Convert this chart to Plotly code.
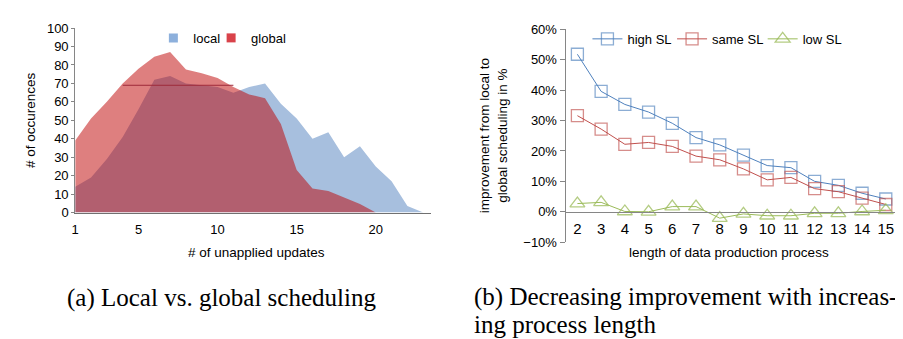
import plotly.graph_objects as go

# ---------------- data: left chart ----------------
updates = list(range(1, 24))
local_counts = [14, 19, 29, 41, 56, 72, 74, 70, 69, 68, 65, 68, 70, 59, 51, 40, 43.5, 30, 36, 25, 17, 3.5, 0]
global_counts = [39, 51, 60, 70, 78, 84.5, 87, 77.5, 75.5, 73, 68, 64, 62, 48, 23, 13, 11.7, 8, 4.7, 0, 0, 0, 0]
ref_line_x = [4, 11]
ref_line_y = [69, 69]
left_xticks = [1, 5, 10, 15, 20]

# ---------------- data: right chart ----------------
proc_len = list(range(2, 16))
high_sl = [51.8, 39.6, 35.3, 32.8, 29.1, 24.4, 22.0, 18.6, 15.2, 14.5, 10.0, 8.7, 6.1, 4.2]
same_sl = [31.6, 27.2, 22.2, 22.8, 21.5, 18.3, 17.1, 14.1, 10.5, 11.3, 7.6, 6.6, 4.5, 2.4]
low_sl = [2.7, 3.1, 0.1, 0.0, 1.7, 1.7, -2.1, -0.7, -1.3, -1.3, -0.5, -0.5, 0.1, 0.5]

W, H = 903, 339


def px_x(p):
    return p / W


def px_y(p):
    return (H - p) / H


FAM = "Liberation Sans, Arial, sans-serif"
AX_FONT = dict(family=FAM, size=13, color="#000000")
AXIS_GRAY = "#868686"

fig = go.Figure()

# left: areas
fig.add_trace(go.Scatter(x=updates, y=local_counts, mode="lines", fill="tozeroy",
                         line=dict(width=0, color="rgb(167,191,222)"),
                         fillcolor="rgb(167,191,222)", showlegend=False,
                         xaxis="x", yaxis="y", hoverinfo="skip"))
fig.add_trace(go.Scatter(x=updates[:20], y=global_counts[:20], mode="lines", fill="tozeroy",
                         line=dict(width=0, color="rgba(190,0,0,0.5)"),
                         fillcolor="rgba(190,0,0,0.5)", showlegend=False,
                         xaxis="x", yaxis="y", hoverinfo="skip"))
fig.add_trace(go.Scatter(x=ref_line_x, y=ref_line_y, mode="lines",
                         line=dict(width=1, color="#9E2A3A"), showlegend=False,
                         xaxis="x", yaxis="y", hoverinfo="skip"))
# left legend entries
fig.add_trace(go.Scatter(x=[None], y=[None], mode="markers", name="local",
                         marker=dict(symbol="square", size=9, color="#8DB0DC"),
                         xaxis="x", yaxis="y", legend="legend"))
fig.add_trace(go.Scatter(x=[None], y=[None], mode="markers", name="global",
                         marker=dict(symbol="square", size=9, color="#D9424A"),
                         xaxis="x", yaxis="y", legend="legend2"))

# right: lines
series = [
    ("high SL", high_sl, "#4F81BD", "rgba(79,129,189,0.65)", "square-open", 12, "legend3"),
    ("same SL", same_sl, "#C0504D", "rgba(192,80,77,0.65)", "square-open", 12, "legend4"),
    ("low SL", low_sl, "#9BBB59", "rgba(155,187,89,0.75)", "triangle-up-open", 13, "legend5"),
]
for name, vals, lc, mc, sym, sz, lg in series:
    fig.add_trace(go.Scatter(x=proc_len, y=vals, mode="lines+markers", name=name,
                             line=dict(width=1, color=lc),
                             marker=dict(symbol=sym, size=sz, color=mc, line=dict(width=1.3, color=mc)),
                             xaxis="x2", yaxis="y2", legend=lg))

lx0, lx1 = 63.5, 421
ly0, ly1 = 206.7, 13.7
rx0, rx1 = 556, 889.6
ry0, ry1 = 237.7, 15
r_zero = 206

fig.update_layout(
    width=W, height=H,
    margin=dict(l=0, r=0, t=0, b=0),
    paper_bgcolor="white", plot_bgcolor="rgba(0,0,0,0)",
    font=AX_FONT,
    xaxis=dict(domain=[px_x(lx0), px_x(lx1)], range=[1, 23.5], anchor="y",
               tickvals=left_xticks, showgrid=False, zeroline=False,
               showline=True, linecolor="#707070", linewidth=1, ticks="",
               tickfont=AX_FONT, ticklabelstandoff=5),
    yaxis=dict(domain=[px_y(ly0), px_y(ly1)], range=[0, 100], dtick=10, anchor="x",
               showgrid=False, zeroline=False, showline=True, linecolor=AXIS_GRAY,
               ticks="outside", ticklen=3, tickcolor=AXIS_GRAY, tickfont=AX_FONT),
    xaxis2=dict(domain=[px_x(rx0), px_x(rx1)], range=[1.5, 15.5], anchor="free",
                position=px_y(r_zero), tickvals=proc_len, showgrid=False, zeroline=False,
                showline=True, linecolor=AXIS_GRAY, linewidth=1, ticks="",
                tickfont=dict(family=FAM, size=15, color="#000"),
                ticklabelstandoff=3),
    yaxis2=dict(domain=[px_y(ry0), px_y(ry1)], range=[-10, 60], dtick=10, anchor="x2",
                ticksuffix="%", showgrid=False, zeroline=False, showline=True,
                linecolor=AXIS_GRAY, ticks="outside", ticklen=5, tickcolor=AXIS_GRAY,
                tickfont=AX_FONT),
)

legend_common = dict(orientation="h", yanchor="middle", xanchor="left",
                     bgcolor="rgba(0,0,0,0)", borderwidth=0,
                     font=dict(family=FAM, size=13, color="#000"))
# text of each legend entry starts ~50px right of the legend's x
fig.update_layout(
    legend=dict(x=px_x(192 - 50), y=px_y(24), **legend_common),
    legend2=dict(x=px_x(250 - 50), y=px_y(24), **legend_common),
    legend3=dict(x=px_x(628 - 50), y=px_y(25), **legend_common),
    legend4=dict(x=px_x(713 - 50), y=px_y(25), **legend_common),
    legend5=dict(x=px_x(804 - 50), y=px_y(25), **legend_common),
)

annos = [
    dict(text="# of unapplied updates", x=px_x(246), y=px_y(249), font=dict(size=13.5)),
    dict(text="# of occurences", x=px_x(18), y=px_y(110), textangle=-90, font=dict(size=13.5)),
    dict(text="length of data production process", x=px_x(720), y=px_y(249), font=dict(size=13.5)),
    dict(text="improvement from local to<br>global scheduling in %", x=px_x(484), y=px_y(126),
         textangle=-90, font=dict(size=13.5)),
]
for a in annos:
    fig.add_annotation(xref="paper", yref="paper", showarrow=False, xanchor="center",
                       yanchor="middle", **a)

CAP_FONT = dict(family="Liberation Serif, Times New Roman, serif", size=25, color="#000")
fig.add_annotation(text="(a) Local vs. global scheduling", x=px_x(53), y=px_y(296),
                   xref="paper", yref="paper", showarrow=False, xanchor="left",
                   yanchor="middle", font=CAP_FONT)
fig.add_annotation(text="(b) Decreasing improvement with increas-", x=px_x(462), y=px_y(295),
                   xref="paper", yref="paper", showarrow=False, xanchor="left",
                   yanchor="middle", font=CAP_FONT)
fig.add_annotation(text="ing process length", x=px_x(462), y=px_y(324),
                   xref="paper", yref="paper", showarrow=False, xanchor="left",
                   yanchor="middle", font=CAP_FONT)

fig.write_html("out.html")
